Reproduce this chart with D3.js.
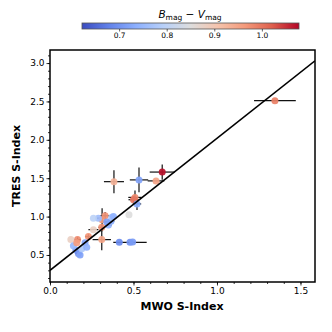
<!DOCTYPE html>
<html>
<head>
<meta charset="utf-8">
<script src="https://cdn.jsdelivr.net/npm/d3@7"></script>
<style>
  body { margin: 0; background: #fff; }
  text { font-family: "DejaVu Sans", sans-serif; }
</style>
</head>
<body>
<svg id="mainsvg" width="332" height="332"></svg>
<script>
// data
const mwo    = [1.347, 0.672, 0.635, 0.533, 0.383, 0.509, 0.500, 0.521, 0.473, 0.415, 0.479, 0.495,
                0.310, 0.312, 0.290, 0.260, 0.330, 0.365, 0.350, 0.370, 0.260, 0.310, 0.230, 0.210,
                0.165, 0.125, 0.155, 0.170, 0.180, 0.190, 0.140, 0.160, 0.220, 0.340, 0.380];
const tres   = [2.51, 1.58, 1.465, 1.478, 1.455, 1.25, 1.22, 1.165, 1.025, 0.665, 0.665, 0.67,
                0.70, 0.96, 0.98, 0.98, 1.01, 0.94, 0.89, 0.99, 0.83, 0.86, 0.74, 0.66,
                0.70, 0.70, 0.565, 0.52, 0.50, 0.58, 0.62, 0.66, 0.60, 0.93, 1.00];
const mwoErr = [0.125, 0.075, 0.05, 0.055, 0.06, 0.04, 0.03, 0.025, 0, 0, 0.10, 0,
                0.055, 0, 0.02, 0, 0.03, 0.02, 0.02, 0, 0.03, 0.02, 0.02, 0,
                0.02, 0, 0, 0.02, 0, 0, 0, 0, 0, 0.02, 0];
const tresErr = [0, 0.10, 0, 0.16, 0.15, 0.09, 0.05, 0.08, 0, 0, 0, 0,
                0.14, 0.15, 0, 0, 0.05, 0.03, 0, 0, 0, 0.04, 0.03, 0,
                0.03, 0, 0, 0, 0, 0, 0, 0, 0, 0, 0];
const bv     = [0.99, 1.07, 0.95, 0.72, 0.93, 0.98, 1.00, 0.73, 0.85, 0.69, 0.70, 0.71,
                0.95, 0.96, 0.76, 0.80, 0.97, 0.73, 0.74, 0.78, 0.88, 0.97, 0.97, 0.72,
                0.98, 0.88, 0.72, 0.70, 0.72, 0.78, 0.75, 0.96, 0.74, 0.72, 0.74];
const fitSlope = 1.72, fitIntercept = 0.30;
const xTicks = [0, 0.5, 1.0, 1.5];
const yTicks = [0.5, 1.0, 1.5, 2.0, 2.5, 3.0];
const cbTicks = [0.7, 0.8, 0.9, 1.0];

const svg = d3.select('#mainsvg');
const plot = { left: 50, right: 315, top: 50, bottom: 282 };

const x = d3.scaleLinear().domain([0, 1.587]).range([plot.left, plot.right]);
const y = d3.scaleLinear().domain([0.148, 3.17]).range([plot.bottom, plot.top]);

// coolwarm colormap
const cwStops = ['#3b4cc0', '#6282ea', '#8db0fe', '#b8d0f9', '#dddddd', '#f5c4ad', '#f49a7b', '#de604d', '#b40426'];
const cbMin = 0.622, cbMax = 1.078;
const cw = d3.scaleLinear().domain(d3.range(9).map(i => cbMin + i * (cbMax - cbMin) / 8)).range(cwStops).clamp(true);

const pts = mwo.map((m, i) => ({ x: m, y: tres[i], xe: mwoErr[i], ye: tresErr[i], c: bv[i] }));

svg.append('defs').append('clipPath').attr('id', 'clip')
  .append('rect').attr('x', plot.left).attr('y', plot.top)
  .attr('width', plot.right - plot.left).attr('height', plot.bottom - plot.top);

const g = svg.append('g').attr('clip-path', 'url(#clip)');

// error bars
const eb = g.append('g').attr('stroke', '#111').attr('stroke-width', 1.2);
pts.filter(d => d.xe > 0).forEach(d => {
  eb.append('line').attr('x1', x(d.x - d.xe)).attr('x2', x(d.x + d.xe))
    .attr('y1', y(d.y)).attr('y2', y(d.y));
});
pts.filter(d => d.ye > 0).forEach(d => {
  eb.append('line').attr('x1', x(d.x)).attr('x2', x(d.x))
    .attr('y1', y(d.y - d.ye)).attr('y2', y(d.y + d.ye));
});

// points
g.selectAll('circle').data(pts).join('circle')
  .attr('cx', d => x(d.x)).attr('cy', d => y(d.y)).attr('r', 3.5)
  .attr('fill', d => cw(d.c)).attr('opacity', 0.92);

// fit line
g.append('line')
  .attr('x1', x(0)).attr('y1', y(fitIntercept))
  .attr('x2', x(1.587)).attr('y2', y(fitIntercept + fitSlope * 1.587))
  .attr('stroke', 'black').attr('stroke-width', 1.6);

// axes
const xAxis = svg.append('g').attr('transform', `translate(0,${plot.bottom})`)
  .call(d3.axisBottom(x).tickValues(xTicks).tickFormat(d3.format('.1f')).tickSize(3.5).tickPadding(2));
const xMinor = svg.append('g').attr('transform', `translate(0,${plot.bottom})`)
  .call(d3.axisBottom(x).tickValues(d3.range(0, 1.59, 0.1)).tickFormat('').tickSize(2));
const yAxis = svg.append('g').attr('transform', `translate(${plot.left},0)`)
  .call(d3.axisLeft(y).tickValues(yTicks).tickFormat(d3.format('.1f')).tickSize(3.5).tickPadding(2));
const yMinor = svg.append('g').attr('transform', `translate(${plot.left},0)`)
  .call(d3.axisLeft(y).tickValues(d3.range(0.2, 3.15, 0.1)).tickFormat('').tickSize(2));

[xAxis, xMinor, yAxis, yMinor].forEach(a => {
  a.select('.domain').remove();
  a.selectAll('line').attr('stroke', 'black').attr('stroke-width', 0.8);
  a.selectAll('text').attr('font-size', 9).attr('fill', 'black')
    .style('font-family', '"DejaVu Sans", sans-serif');
});

svg.append('rect').attr('x', plot.left).attr('y', plot.top)
  .attr('width', plot.right - plot.left).attr('height', plot.bottom - plot.top)
  .attr('fill', 'none').attr('stroke', 'black').attr('stroke-width', 1.5);

svg.append('text').attr('x', 182).attr('y', 310)
  .attr('text-anchor', 'middle').attr('font-size', 11).attr('font-weight', 'bold')
  .text('MWO S-Index');
svg.append('text').attr('transform', `translate(20,${(plot.top + plot.bottom) / 2}) rotate(-90)`)
  .attr('text-anchor', 'middle').attr('font-size', 11).attr('font-weight', 'bold')
  .text('TRES S-Index');

// colorbar
const cb = { left: 82, right: 299, top: 23, bottom: 29 };
const cx = d3.scaleLinear().domain([cbMin, cbMax]).range([cb.left, cb.right]);
const grad = svg.select('defs').append('linearGradient').attr('id', 'cwgrad');
cwStops.forEach((c, i) => {
  grad.append('stop').attr('offset', `${i / 8 * 100}%`).attr('stop-color', c);
});
svg.append('rect').attr('x', cb.left).attr('y', cb.top)
  .attr('width', cb.right - cb.left).attr('height', cb.bottom - cb.top)
  .attr('fill', 'url(#cwgrad)').attr('stroke', '#555').attr('stroke-width', 0.8);
const cbAxis = svg.append('g').attr('transform', `translate(0,${cb.bottom})`)
  .call(d3.axisBottom(cx).tickValues(cbTicks).tickFormat(d3.format('.1f')).tickSize(2.5).tickPadding(1.5));
cbAxis.select('.domain').remove();
cbAxis.selectAll('line').attr('stroke', 'black').attr('stroke-width', 0.6);
cbAxis.selectAll('text').attr('font-size', 7.5).attr('fill', 'black')
  .style('font-family', '"DejaVu Sans", sans-serif');

const lbl = svg.append('text').attr('x', 190).attr('y', 18)
  .attr('text-anchor', 'middle').attr('font-size', 10.5);
lbl.append('tspan').attr('font-style', 'italic').text('B');
lbl.append('tspan').attr('font-size', 7.5).attr('dy', 2).text('mag');
lbl.append('tspan').attr('dy', -2).text(' − ');
lbl.append('tspan').attr('font-style', 'italic').text('V');
lbl.append('tspan').attr('font-size', 7.5).attr('dy', 2).text('mag');
</script>
</body>
</html>
